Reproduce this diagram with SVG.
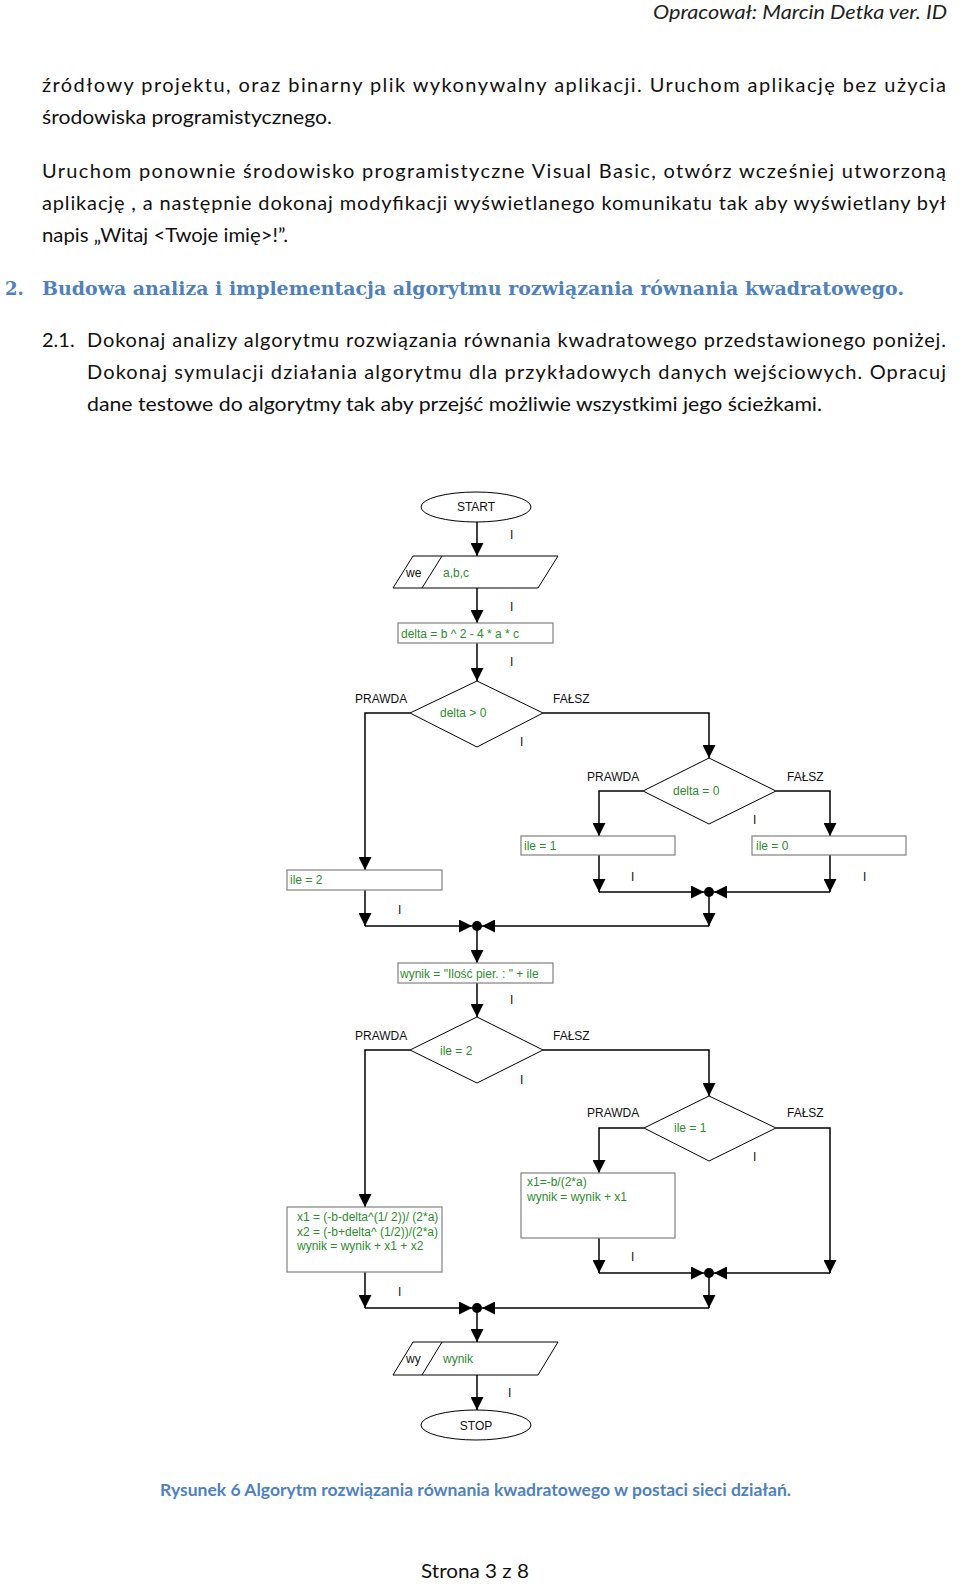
<svg xmlns="http://www.w3.org/2000/svg" width="960" height="1584" viewBox="0 0 960 1584">
<defs>
<style>
.t{font-family:Lato,"Open Sans","Noto Sans",sans-serif;font-size:20px;fill:#111}
.hd{font-family:Lato,"Open Sans",sans-serif;font-style:italic;font-size:20px;fill:#222}
.h{font-family:"DejaVu Serif","Liberation Serif",serif;font-weight:bold;font-size:18px;fill:#4F81BD}
.cap{font-family:Lato,"Open Sans",sans-serif;font-weight:bold;font-size:17px;fill:#4F81BD}
.fc{font-family:"Liberation Sans",Arial,sans-serif;font-size:12px;fill:#111}
.g{fill:#2E8B2E}
.ln{stroke:#000;stroke-width:1.5;fill:none}
.ar{stroke:#000;stroke-width:1.5;fill:none;marker-end:url(#a)}
.box{fill:#fff;stroke:#808080;stroke-width:1.2}
.sh{fill:#fff;stroke:#000;stroke-width:1}
</style>
<marker id="a" viewBox="0 0 13 13" refX="13" refY="6.5" markerWidth="13" markerHeight="13" markerUnits="userSpaceOnUse" orient="auto"><path d="M0,0 L13,6.5 L0,13 z" fill="#000"/></marker>
</defs>
<rect width="960" height="1584" fill="#fff"/>

<g id="page-text">
<text class="hd" x="653" y="19" textLength="294" lengthAdjust="spacingAndGlyphs">Opracował: Marcin Detka ver. ID</text>
<text class="t" x="42" y="92" textLength="904" lengthAdjust="spacing">źródłowy projektu, oraz binarny plik wykonywalny aplikacji. Uruchom aplikację bez użycia</text>
<text class="t" x="42" y="124" textLength="290" lengthAdjust="spacingAndGlyphs">środowiska programistycznego.</text>
<text class="t" x="42" y="178" textLength="904" lengthAdjust="spacing">Uruchom ponownie środowisko programistyczne Visual Basic, otwórz wcześniej utworzoną</text>
<text class="t" x="42" y="210" textLength="904" lengthAdjust="spacing">aplikację , a następnie dokonaj modyfikacji wyświetlanego komunikatu tak aby wyświetlany był</text>
<text class="t" x="42" y="242" textLength="246" lengthAdjust="spacingAndGlyphs">napis „Witaj &lt;Twoje imię&gt;!”.</text>
<text class="h" x="5" y="295">2.</text>
<text class="h" x="42" y="295" textLength="862" lengthAdjust="spacingAndGlyphs">Budowa analiza i implementacja algorytmu rozwiązania równania kwadratowego.</text>
<text class="t" x="42" y="347">2.1.</text>
<text class="t" x="87" y="347" textLength="859" lengthAdjust="spacing">Dokonaj analizy algorytmu rozwiązania równania kwadratowego przedstawionego poniżej.</text>
<text class="t" x="87" y="379" textLength="859" lengthAdjust="spacing">Dokonaj symulacji działania algorytmu dla przykładowych danych wejściowych. Opracuj</text>
<text class="t" x="87" y="411" textLength="735" lengthAdjust="spacingAndGlyphs">dane testowe do algorytmy tak aby przejść możliwie wszystkimi jego ścieżkami.</text>
<text class="cap" x="160" y="1496" textLength="631" lengthAdjust="spacingAndGlyphs">Rysunek 6 Algorytm rozwiązania równania kwadratowego w postaci sieci działań.</text>
<text class="t" x="421" y="1578" textLength="108" lengthAdjust="spacingAndGlyphs">Strona 3 z 8</text>
</g>

<g id="connectors">
<line class="ar" x1="477" y1="521" x2="477" y2="556"/>
<line class="ar" x1="477" y1="588" x2="477" y2="623"/>
<line class="ar" x1="477" y1="643" x2="477" y2="681"/>
<polyline class="ar" points="410,713 365,713 365,870"/>
<polyline class="ar" points="543,713 709,713 709,758"/>
<polyline class="ar" points="643,791 599,791 599,836"/>
<polyline class="ar" points="776,791 830,791 830,836"/>
<line class="ar" x1="599" y1="855" x2="599" y2="892"/>
<line class="ar" x1="830" y1="855" x2="830" y2="892"/>
<line class="ar" x1="599" y1="892" x2="704" y2="892"/>
<line class="ar" x1="830" y1="892" x2="714" y2="892"/>
<circle cx="709" cy="892" r="5" fill="#000"/>
<line class="ar" x1="709" y1="892" x2="709" y2="926"/>
<line class="ar" x1="365" y1="890" x2="365" y2="926"/>
<line class="ar" x1="365" y1="926" x2="472" y2="926"/>
<line class="ar" x1="709" y1="926" x2="482" y2="926"/>
<circle cx="477" cy="926" r="5" fill="#000"/>
<line class="ar" x1="477" y1="926" x2="477" y2="963"/>
<line class="ar" x1="477" y1="983" x2="477" y2="1017"/>
<polyline class="ar" points="410,1050 365,1050 365,1207"/>
<polyline class="ar" points="543,1050 709,1050 709,1096"/>
<polyline class="ar" points="644,1128 599,1128 599,1173"/>
<polyline class="ar" points="776,1128 830,1128 830,1273"/>
<line class="ar" x1="599" y1="1238" x2="599" y2="1273"/>
<line class="ar" x1="599" y1="1273" x2="704" y2="1273"/>
<line class="ar" x1="830" y1="1273" x2="714" y2="1273"/>
<circle cx="709" cy="1273" r="5" fill="#000"/>
<line class="ar" x1="709" y1="1273" x2="709" y2="1308"/>
<line class="ar" x1="365" y1="1272" x2="365" y2="1308"/>
<line class="ar" x1="365" y1="1308" x2="472" y2="1308"/>
<line class="ar" x1="709" y1="1308" x2="482" y2="1308"/>
<circle cx="477" cy="1308" r="5" fill="#000"/>
<line class="ar" x1="477" y1="1308" x2="477" y2="1342"/>
<line class="ar" x1="477" y1="1375" x2="477" y2="1410"/>
<g class="fc">
<text x="510" y="539">I</text>
<text x="510" y="611">I</text>
<text x="510" y="666">I</text>
<text x="520" y="746">I</text>
<text x="753" y="824">I</text>
<text x="631" y="881">I</text>
<text x="863" y="881">I</text>
<text x="398" y="914">I</text>
<text x="510" y="1004">I</text>
<text x="520" y="1084">I</text>
<text x="753" y="1161">I</text>
<text x="631" y="1261">I</text>
<text x="398" y="1296">I</text>
<text x="508" y="1397">I</text>
<text x="355" y="703">PRAWDA</text>
<text x="553" y="703">FAŁSZ</text>
<text x="587" y="781">PRAWDA</text>
<text x="787" y="781">FAŁSZ</text>
<text x="355" y="1040">PRAWDA</text>
<text x="553" y="1040">FAŁSZ</text>
<text x="587" y="1117">PRAWDA</text>
<text x="787" y="1117">FAŁSZ</text>
</g>
</g>

<g id="start">
<ellipse class="sh" cx="476" cy="507" rx="55" ry="15"/>
<text class="fc" x="476" y="511" text-anchor="middle">START</text>
</g>
<g id="input">
<polygon class="sh" points="413,556 558,556 538,588 393,588"/>
<line class="sh" x1="442" y1="556" x2="422" y2="588"/>
<text class="fc" x="406" y="577">we</text>
<text class="fc g" x="443" y="577">a,b,c</text>
</g>
<g id="delta">
<rect class="box" x="398" y="623" width="155" height="20"/>
<text class="fc g" x="401" y="638">delta = b ^ 2 - 4 * a * c</text>
</g>
<g id="cond-delta-gt0">
<polygon class="sh" points="477,681 543,713 477,747 410,713"/>
<text class="fc g" x="440" y="717">delta &gt; 0</text>
</g>
<g id="cond-delta-eq0">
<polygon class="sh" points="709,758 776,791 709,824 643,791"/>
<text class="fc g" x="673" y="795">delta = 0</text>
</g>
<g id="ile1">
<rect class="box" x="521" y="836" width="154" height="19"/>
<text class="fc g" x="524" y="850">ile = 1</text>
</g>
<g id="ile0">
<rect class="box" x="752" y="836" width="154" height="19"/>
<text class="fc g" x="756" y="850">ile = 0</text>
</g>
<g id="ile2">
<rect class="box" x="287" y="870" width="155" height="20"/>
<text class="fc g" x="290" y="884">ile = 2</text>
</g>
<g id="wynik-init">
<rect class="box" x="398" y="963" width="155" height="20"/>
<text class="fc g" x="400" y="978">wynik = "Ilość pier. : " + ile</text>
</g>
<g id="cond-ile2">
<polygon class="sh" points="477,1017 543,1050 477,1083 410,1050"/>
<text class="fc g" x="440" y="1055">ile = 2</text>
</g>
<g id="cond-ile1">
<polygon class="sh" points="709,1096 776,1128 709,1161 644,1128"/>
<text class="fc g" x="674" y="1132">ile = 1</text>
</g>
<g id="x1-only">
<rect class="box" x="521" y="1173" width="154" height="65"/>
<text class="fc g" x="527" y="1186">x1=-b/(2*a)</text>
<text class="fc g" x="527" y="1201">wynik = wynik + x1</text>
</g>
<g id="x1-x2">
<rect class="box" x="287" y="1207" width="155" height="65"/>
<text class="fc g" x="297" y="1221">x1 = (-b-delta^(1/ 2))/ (2*a)</text>
<text class="fc g" x="297" y="1236">x2 = (-b+delta^ (1/2))/(2*a)</text>
<text class="fc g" x="297" y="1250">wynik = wynik + x1 + x2</text>
</g>
<g id="output">
<polygon class="sh" points="413,1342 558,1342 538,1375 393,1375"/>
<line class="sh" x1="442" y1="1342" x2="422" y2="1375"/>
<text class="fc" x="406" y="1363">wy</text>
<text class="fc g" x="443" y="1363">wynik</text>
</g>
<g id="stop">
<ellipse class="sh" cx="476" cy="1425" rx="55" ry="15"/>
<text class="fc" x="476" y="1430" text-anchor="middle">STOP</text>
</g>
</svg>
